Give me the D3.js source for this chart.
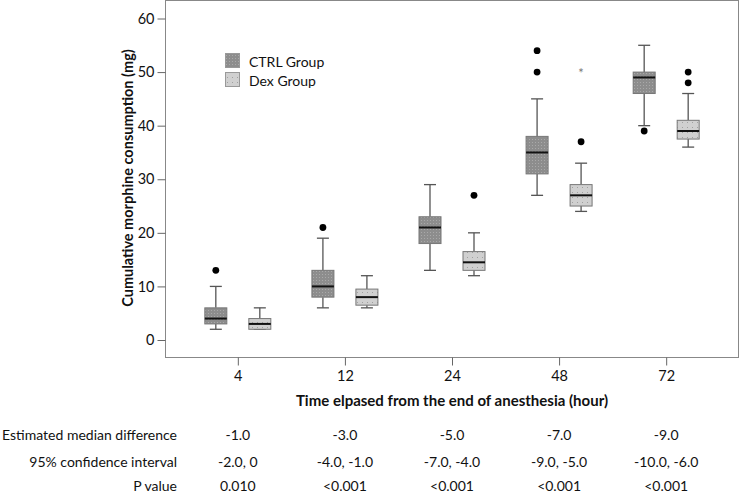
<!DOCTYPE html>
<html><head><meta charset="utf-8">
<script src="https://cdn.jsdelivr.net/npm/d3@7"></script>
<style>
html,body{margin:0;padding:0;background:#fff;}
svg{display:block;}
text{font-family:Lato,"Open Sans",sans-serif;fill:#111;}
</style></head>
<body><svg id="c" width="740" height="495"></svg>
<script>
const times = ["4","12","24","48","72"];
const groups = ["CTRL Group","Dex Group"];
const ctrlLow  = [2, 6, 13, 27, 40];
const ctrlQ1   = [3, 8, 18, 31, 46];
const ctrlMed  = [4, 10, 21, 35, 49];
const ctrlQ3   = [6, 13, 23, 38, 50];
const ctrlHigh = [10, 19, 29, 45, 55];
const ctrlOutliers = [[13],[21],[],[50,54],[39]];
const ctrlExtremes = [[],[],[],[],[]];
const dexLow  = [2, 6, 12, 24, 36];
const dexQ1   = [2, 6.5, 13, 25, 37.5];
const dexMed  = [3, 8, 14.5, 27, 39];
const dexQ3   = [4, 9.5, 16.5, 29, 41];
const dexHigh = [6, 12, 20, 33, 46];
const dexOutliers = [[],[],[27],[37],[48,50]];
const dexExtremes = [[],[],[],[50],[]];
const yTicks = [0,10,20,30,40,50,60];
const rowLabels = ["Estimated median difference","95% confidence interval","P value"];
const medianDiff = ["-1.0","-3.0","-5.0","-7.0","-9.0"];
const confInt = ["-2.0, 0","-4.0, -1.0","-7.0, -4.0","-9.0, -5.0","-10.0, -6.0"];
const pValues = ["0.010","<0.001","<0.001","<0.001","<0.001"];

const svg = d3.select("#c");
const L = 165, R = 739, T = 0, B = 357;
const x = d3.scalePoint().domain(times).range([L, R]).padding(0.68);
const xg = d3.scaleBand().domain(groups).range([-55, 55]).paddingInner(0.5).paddingOuter(0.5);
const y = d3.scaleLinear().domain([0, 60]).range([340, 18.5]);

// patterns
const defs = svg.append("defs");
const p1 = defs.append("pattern").attr("id","pc").attr("patternUnits","userSpaceOnUse").attr("width",3).attr("height",3);
p1.append("rect").attr("width",3).attr("height",3).attr("fill","#8d8d8d");
p1.append("rect").attr("x",1).attr("y",1).attr("width",1).attr("height",1).attr("fill","#a9a9a9");
const p2 = defs.append("pattern").attr("id","pd").attr("patternUnits","userSpaceOnUse").attr("width",5).attr("height",5);
p2.append("rect").attr("width",5).attr("height",5).attr("fill","#d0d0d0");
p2.append("rect").attr("x",2).attr("y",2).attr("width",1).attr("height",1).attr("fill","#a0a0a0");

// frame
svg.append("rect").attr("x",L+0.5).attr("y",T+0.5).attr("width",R-L-1).attr("height",B-T)
  .attr("fill","none").attr("stroke","#888").attr("stroke-width",1);

// axes
const ya = svg.append("g").attr("transform",`translate(${L+0.5},0)`)
  .call(d3.axisLeft(y).tickValues(yTicks).tickSize(8).tickPadding(3));
ya.select(".domain").remove();
ya.selectAll("line").attr("stroke","#666");
ya.selectAll("text").style("font-size","14.5px").style("font-family","Lato,sans-serif").attr("fill","#222");

const xa = svg.append("g").attr("transform",`translate(0,${B+0.5})`)
  .call(d3.axisBottom(x).tickSize(8).tickPadding(5));
xa.select(".domain").remove();
xa.selectAll("line").attr("stroke","#666");
xa.selectAll("text").style("font-size","14.5px").style("font-family","Lato,sans-serif").attr("fill","#222");

// titles
svg.append("text").attr("x",452).attr("y",406).attr("text-anchor","middle")
  .style("font-weight","bold").style("font-size","15px").text("Time elpased from the end of anesthesia (hour)");
svg.append("text").attr("transform",`translate(133,178) rotate(-90)`).attr("text-anchor","middle")
  .style("font-weight","bold").style("font-size","14.5px").text("Cumulative morphine consumption (mg)");

// boxes
const series = [
  {g:groups[0], lo:ctrlLow, q1:ctrlQ1, md:ctrlMed, q3:ctrlQ3, hi:ctrlHigh, out:ctrlOutliers, ext:ctrlExtremes, fill:"url(#pc)"},
  {g:groups[1], lo:dexLow, q1:dexQ1, md:dexMed, q3:dexQ3, hi:dexHigh, out:dexOutliers, ext:dexExtremes, fill:"url(#pd)"}
];
const bw = xg.bandwidth();
series.forEach(s => {
  times.forEach((t,i) => {
    const cx = x(t) + xg(s.g) + bw/2;
    const g = svg.append("g");
    const sc = "#555";
    g.append("line").attr("x1",cx).attr("x2",cx).attr("y1",y(s.hi[i])).attr("y2",y(s.q3[i])).attr("stroke",sc).attr("stroke-width",1.3);
    g.append("line").attr("x1",cx).attr("x2",cx).attr("y1",y(s.q1[i])).attr("y2",y(s.lo[i])).attr("stroke",sc).attr("stroke-width",1.3);
    g.append("line").attr("x1",cx-bw/4-0.5).attr("x2",cx+bw/4+0.5).attr("y1",y(s.hi[i])).attr("y2",y(s.hi[i])).attr("stroke",sc).attr("stroke-width",1.3);
    g.append("line").attr("x1",cx-bw/4-0.5).attr("x2",cx+bw/4+0.5).attr("y1",y(s.lo[i])).attr("y2",y(s.lo[i])).attr("stroke",sc).attr("stroke-width",1.3);
    g.append("rect").attr("x",cx-bw/2).attr("width",bw).attr("y",y(s.q3[i])).attr("height",Math.max(1,y(s.q1[i])-y(s.q3[i])))
      .attr("fill",s.fill).attr("stroke","#777").attr("stroke-width",1);
    g.append("line").attr("x1",cx-bw/2).attr("x2",cx+bw/2).attr("y1",y(s.md[i])).attr("y2",y(s.md[i])).attr("stroke","#111").attr("stroke-width",2);
    s.out[i].forEach(v => g.append("circle").attr("cx",cx).attr("cy",y(v)).attr("r",3.4).attr("fill","#000"));
    s.ext[i].forEach(v => g.append("text").attr("x",cx).attr("y",y(v)+6).attr("text-anchor","middle")
      .style("font-size","13px").style("fill","#777").text("*"));
  });
});

// legend
const lg = svg.append("g");
groups.forEach((gname,i) => {
  lg.append("rect").attr("x",225.5).attr("y",53.5 + i*19).attr("width",14).attr("height",14)
    .attr("fill", i===0 ? "url(#pc)" : "url(#pd)").attr("stroke","#999");
  lg.append("text").attr("x",249).attr("y",67 + i*19).style("font-size","14px").text(gname);
});

// table
const rows = [medianDiff, confInt, pValues];
const rowY = [440, 467, 491];
rows.forEach((vals, r) => {
  svg.append("text").attr("x",177).attr("y",rowY[r]).attr("text-anchor","end").style("font-size","14px").text(rowLabels[r]);
  times.forEach((t,i) => {
    svg.append("text").attr("x",x(t)).attr("y",rowY[r]).attr("text-anchor","middle").style("font-size","14px").text(vals[i]);
  });
});
</script></body></html>
